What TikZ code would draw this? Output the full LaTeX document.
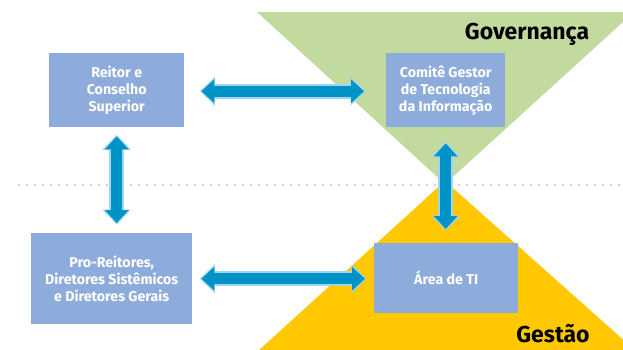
\documentclass[tikz,border=0pt]{standalone}
\usepackage{fontspec}
\setmainfont{Fira Sans}
\usetikzlibrary{arrows.meta}
\definecolor{boxblue}{HTML}{8EACDB}
\definecolor{govgreen}{HTML}{C3DA9F}
\definecolor{gestyellow}{HTML}{FFC800}
\definecolor{arrblue}{HTML}{0093C8}
\definecolor{arrglow}{HTML}{9FD6EF}
\definecolor{dotgray}{HTML}{A8A8A8}
\tikzset{
  box/.style={fill=boxblue, text=white, font=\fontsize{14.2}{17}\selectfont\bfseries, align=center, inner sep=0pt, anchor=north west},
  bigarrow/.style={draw=arrblue, line width=11pt,
    arrows={Triangle[width=23pt,length=13pt]-Triangle[width=23pt,length=13pt]},
    preaction={draw=arrglow, line width=15pt,
      arrows={Triangle[width=28pt,length=15pt]-Triangle[width=28pt,length=15pt]},
      shorten <=-1.5pt, shorten >=-1.5pt}},
  title/.style={font=\fontsize{23}{26}\selectfont\bfseries, text=black, inner sep=0pt},
  dotline/.style={draw=dotgray, line width=1.6pt, line cap=round, dash pattern=on 0pt off 8pt}
}
\begin{document}
\begin{tikzpicture}[x=1pt,y=-1pt]
\useasboundingbox (0,0) rectangle (623,349);
\begin{scope}
\clip (0,0) rectangle (623,349);
\fill[govgreen] (257,12) -- (634,12) -- (445,184) -- cycle;
\fill[gestyellow] (445,181) -- (258,351) -- (636,351) -- cycle;
\end{scope}
\coordinate (d1) at (19,185);
\coordinate (d2) at (623,185);
\draw[dotline] (d1) -- (d2);

\node[box, minimum width=135pt, minimum height=74pt] (reitor) at (49,53) {Reitor e\\Conselho\\Superior};
\node[box, minimum width=119pt, minimum height=74pt] (comite) at (386,53) {Comitê Gestor\\de Tecnologia\\da Informação};
\node[box, minimum width=161pt, minimum height=91pt] (pro) at (31,233) {Pro-Reitores,\\Diretores Sistêmicos\\e Diretores Gerais};
\node[box, minimum width=144pt, minimum height=70pt] (ti) at (374,243) {Área de TI};

\node[title, anchor=base] (gov) at (527,39) {Governança};
\node[title, anchor=base] (gest) at (553,342) {Gestão};

\draw[bigarrow] ([xshift=17pt,yshift=-1pt]reitor.east) -- ([xshift=-22pt,yshift=-1pt]comite.west);
\draw[bigarrow] ([yshift=-9pt]reitor.south) -- ([yshift=10pt]pro.north -| reitor.south);
\draw[bigarrow] ([xshift=9pt]pro.east) -- ([xshift=-9pt]ti.west |- pro.east);
\draw[bigarrow] ([yshift=-16pt]comite.south) -- ([yshift=14pt]ti.north -| comite.south);
\end{tikzpicture}
\end{document}
